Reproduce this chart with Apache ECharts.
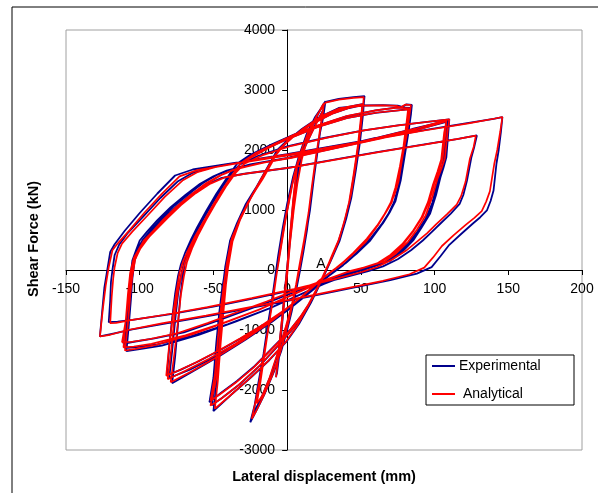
<!DOCTYPE html>
<html>
<head>
<meta charset="utf-8">
<script src="https://cdn.jsdelivr.net/npm/echarts@6/dist/echarts.min.js"></script>
<style>html,body{margin:0;padding:0;background:#fff;}#c{width:598px;height:493px;}</style>
</head>
<body>
<div id="c"></div>
<script>
// ---- Axis settings ----
const xMin = -150, xMax = 200, xStep = 50;
const yMin = -3000, yMax = 4000, yStep = 1000;
const xTitle = 'Lateral displacement (mm)';
const yTitle = 'Shear Force (kN)';
const seriesNames = ['Experimental', 'Analytical'];

// ---- Experimental (blue) hysteresis, cycle by cycle [disp mm, force kN] ----
const expC1 = [[0,0],[2,550],[4,1100],[6,1550],[7.3,1825],[6.5,1600],[4.5,1100],[2,500],[0,0],[-2,-500],[-4,-1000],[-6,-1450],[-7.5,-1787],[-6.5,-1550],[-4,-950],[-2,-450],[0,50],[2,550],[4,1050],[6,1500],[7,1780],[6,1500],[3.5,900],[1,250],[-1.5,-350],[-4,-950],[-6,-1400],[-7,-1740]];
const expC2 = [[-5,-1350],[-3,-800],[-1,-250],[1,300],[3,800],[5.5,1300],[8,1700],[11,2050],[15,2300],[20,2550],[24,2740],[26,2813],[24.5,2550],[22.4,2300],[20,1900],[17.8,1492],[15.5,1050],[13.4,658],[11,300],[8.8,0],[6,-350],[3,-700],[0,-1000],[-4,-1350],[-9,-1700],[-15,-2050],[-20,-2300],[-25,-2537],[-22,-2250],[-18,-1700],[-15,-1250],[-12,-800],[-10,-450],[-8,-100],[-6,150],[-4,450],[-2,750],[0,1000],[3,1400],[6.6,1713],[10,1950],[14,2150],[19,2420],[25,2690],[23,2420],[20.5,1950],[18,1500],[15.5,1000],[12.5,550],[9.5,150],[7,-200],[4,-550],[0,-900],[-5,-1300],[-11,-1750],[-17,-2100],[-23,-2400]];
const expC3 = [[-20,-1950],[-16,-1400],[-13,-900],[-10,-450],[-8,-100],[-6,250],[-3,700],[0,1100],[4,1550],[8,1900],[13,2250],[19,2550],[26,2800],[35,2850],[45,2880],[52.5,2897],[52,2770],[50,2300],[47,1770],[44,1300],[40.5,937],[36,550],[31.4,270],[24.6,-120],[18,-450],[10,-750],[2,-1000],[-10,-1300],[-22,-1600],[-34,-1850],[-45,-2050],[-52.7,-2203],[-50,-1800],[-48,-1200],[-46,-700],[-44,-300],[-42,0],[-38.7,492],[-34,780],[-28,1100],[-23,1300],[-18,1492],[-12,1750],[-7,1992],[0,2158],[10,2330],[20,2500],[30,2620],[40,2710],[50,2760],[52,2770],[51.5,2600],[49.5,2150],[46.5,1650],[43.5,1200],[40,850],[35.5,480],[30.5,200],[24,-150],[16,-550],[8,-900],[0,-1180],[-12,-1500],[-25,-1800],[-38,-2080],[-50,-2353],[-48,-1900],[-46,-1250],[-44,-700],[-42.5,-300],[-41,0],[-38,450],[-33,800],[-26,1150],[-18,1500],[-10,1850],[-4,2050],[5,2250],[18,2450],[30,2600],[42,2700],[51,2750],[50.5,2550],[48.5,2100],[45.5,1600],[42.5,1150],[39,800],[34.5,450],[29.5,150],[23,-200],[14,-620],[5,-950],[-5,-1230],[-18,-1580],[-32,-1900],[-44,-2130],[-51,-2250]];
const expC4 = [[-49,-1850],[-47,-1300],[-45,-700],[-43.5,-250],[-42,50],[-39,450],[-33,820],[-25,1200],[-17,1550],[-9,1900],[0,2150],[10,2350],[22,2550],[35,2700],[52,2742],[65,2748],[75,2740],[78,2720],[81,2760],[84.6,2753],[84,2600],[82,2250],[80,1940],[77,1492],[74.5,1250],[72,1108],[68,900],[63,713],[56,480],[47,270],[36,47],[25,-150],[12,-420],[0,-650],[-15,-900],[-30,-1120],[-45,-1330],[-60,-1520],[-72,-1660],[-81.6,-1758],[-80,-1300],[-78,-800],[-76,-400],[-74,-100],[-72,100],[-69,300],[-65,520],[-61,713],[-55,980],[-48,1270],[-41,1530],[-34,1770],[-25,1920],[-10,2100],[5,2260],[20,2400],[40,2560],[60,2660],[75,2710],[84,2700],[83,2500],[81,2150],[79,1800],[76.5,1450],[73.5,1150],[70,980],[65,780],[58,560],[50,340],[40,120],[30,-60],[18,-320],[5,-580],[-10,-860],[-28,-1160],[-45,-1420],[-62,-1660],[-78,-1887],[-76,-1450],[-74,-900],[-72.5,-450],[-71,-150],[-69.5,100],[-67,330],[-63,570],[-58,800],[-51,1100],[-44,1380],[-37,1630],[-29,1840],[-15,2020],[0,2180],[20,2380],[40,2530],[60,2620],[83,2680],[82,2480],[80,2100],[78,1750],[75.5,1400],[72.5,1120],[69,950],[64,760],[57,540],[48,310],[38,80],[27,-120],[15,-380],[2,-640],[-14,-920],[-32,-1210],[-50,-1460],[-66,-1660],[-80,-1800]];
const expC5 = [[-78,-1350],[-76,-850],[-74,-400],[-72,-100],[-70,120],[-67,340],[-62,620],[-55,950],[-47,1290],[-40,1560],[-32,1760],[-20,1900],[0,2060],[25,2200],[50,2320],[75,2410],[95,2470],[110,2508],[109.5,2350],[108,1880],[106,1700],[104,1547],[101,1250],[97,942],[91,700],[85.5,492],[78,300],[70,158],[58,70],[47,0],[30,-150],[10,-320],[-10,-510],[-30,-690],[-50,-870],[-70,-1040],[-90,-1140],[-105,-1200],[-111,-1230],[-109,-900],[-107.5,-500],[-106.5,-150],[-105,158],[-102.5,330],[-100,492],[-95,640],[-88,830],[-79,1047],[-69,1250],[-59,1437],[-50,1560],[-41,1658],[-25,1760],[0,1870],[30,2030],[60,2200],[85,2350],[109,2490],[108.5,2300],[107,1850],[105,1650],[102.5,1450],[99.5,1150],[95,880],[89,650],[82.5,440],[75,260],[66,120],[55,30],[45,-40],[28,-200],[8,-420],[-12,-640],[-35,-860],[-60,-1080],[-85,-1260],[-100,-1320],[-109,-1353],[-107.5,-950],[-106,-500],[-105,-150],[-103.5,150],[-101,340],[-98,500],[-93,650],[-86,840],[-77,1060],[-67,1260],[-57,1450],[-48,1580],[-39,1670],[-20,1780],[0,1860],[30,2020],[60,2180],[85,2320],[108,2470],[107.5,2280],[106,1830],[104,1630],[101.5,1420],[98.5,1120],[94,860],[88,630],[81,420],[73,240],[64,100],[53,10],[43,-60],[25,-230],[5,-450],[-15,-670],[-40,-900],[-65,-1100],[-88,-1240],[-102,-1285],[-110,-1300]];
const expC6 = [[-108.5,-900],[-107,-450],[-106,-100],[-104.5,150],[-102,330],[-98,500],[-92,650],[-84,850],[-75,1060],[-65,1260],[-55,1420],[-45,1530],[-30,1600],[0,1700],[30,1830],[60,1960],[90,2080],[115,2180],[128.7,2242],[127,2060],[125,1880],[122,1492],[119.5,1250],[117,1103],[111,940],[104,775],[98,630],[92,492],[84,330],[75,180],[65,60],[55,-20],[35,-150],[10,-300],[-20,-460],[-50,-610],[-80,-740],[-105,-830],[-115,-860],[-121,-870]];
const expC7 = [[-120,-500],[-119.5,-200],[-118.5,0],[-117,250],[-114,420],[-108,620],[-98,880],[-86,1200],[-74,1480],[-64,1620],[-50,1720],[-25,1830],[0,1930],[30,2060],[60,2190],[90,2320],[120,2440],[140,2520],[146,2547],[145,2300],[143.5,2000],[142,1775],[141,1550],[140,1325],[138,1150],[135.5,992],[131,880],[126,775],[118,600],[110,420],[104,230],[98,47],[88,-60],[70,-170],[40,-320],[10,-470],[-20,-610],[-50,-750],[-80,-880],[-105,-990],[-118,-1060],[-127,-1108]];
const expC8 = [[-125.5,-700],[-124,-300],[-122,0],[-120,300],[-117,430],[-110,658],[-100,950],[-88,1275],[-76,1575],[-64,1675],[-40,1770],[-10,1880],[20,1990]];

// ---- Analytical (red) hysteresis ----
const anaC1 = [[0,0],[2,600],[4,1150],[6,1600],[7,1800],[6,1550],[4,1050],[1.5,450],[-0.5,-100],[-2.5,-600],[-4.5,-1100],[-6.5,-1550],[-7.5,-1787],[-6,-1450],[-3.5,-850],[-1,-250],[1,300],[3,850],[5,1300],[6.8,1750],[5.5,1400],[3,800],[0.5,150],[-2,-450],[-4.5,-1050],[-6.5,-1500],[-7.2,-1700]];
const anaC2 = [[-5,-1250],[-2.5,-650],[0,-100],[2,450],[4.5,1000],[7,1450],[10,1850],[14,2200],[19,2500],[23,2700],[25,2780],[23.5,2500],[21.5,2200],[19,1800],[16.8,1400],[14.5,950],[12.4,600],[10,250],[7.8,-50],[5,-400],[2,-750],[-1,-1050],[-5,-1400],[-10,-1750],[-16,-2100],[-21,-2350],[-24,-2480],[-21,-2150],[-17,-1600],[-14,-1150],[-11,-700],[-9,-350],[-7,-50],[-5,250],[-3,550],[-1,850],[1,1100],[4,1480],[7.5,1780],[11,2000],[15,2200],[20,2450],[24.5,2660],[22.5,2380],[19.8,1900],[17.2,1450],[14.5,950],[11.5,500],[8.5,100],[6,-250],[3,-600],[-1,-950],[-6,-1350],[-12,-1800],[-17,-2100],[-20.6,-2225]];
const anaC3 = [[-18,-1850],[-15,-1350],[-12,-850],[-9,-400],[-7,-50],[-5,300],[-2,750],[1,1150],[5,1600],[9,1950],[14,2280],[20,2570],[26,2790],[35,2840],[45,2870],[52,2880],[51.5,2750],[49.5,2280],[46.5,1750],[43.5,1280],[40,920],[35.5,530],[30.5,250],[24,-140],[17,-480],[9,-780],[1,-1030],[-11,-1330],[-23,-1630],[-35,-1880],[-46,-2080],[-52,-2180],[-49,-1750],[-47,-1150],[-45,-650],[-43,-250],[-41,50],[-37.5,530],[-32.5,820],[-26.5,1130],[-21.5,1330],[-16.5,1520],[-10.5,1780],[-5.5,2010],[1,2170],[11,2340],[21,2510],[31,2630],[41,2720],[51,2760],[50.5,2580],[48.5,2120],[45.5,1620],[42.5,1170],[39,830],[34.5,460],[29.5,180],[23,-170],[15,-570],[7,-920],[-1,-1200],[-13,-1520],[-26,-1820],[-39,-2100],[-49,-2310],[-47,-1850],[-45,-1200],[-43,-650],[-41.5,-250],[-40,50],[-37,480],[-32,830],[-25,1180],[-17,1530],[-9,1870],[-3,2060],[6,2260],[19,2460],[31,2610],[43,2710],[51,2745],[50,2530],[48,2080],[45,1580],[42,1130],[38.5,780],[34,430],[29,130],[22,-220],[13,-640],[4,-970],[-6,-1250],[-19,-1600],[-33,-1920],[-45,-2150],[-52,-2260]];
const anaC4 = [[-48,-1800],[-46,-1250],[-44,-650],[-42.5,-200],[-41,100],[-38,490],[-32,860],[-24,1240],[-16,1590],[-8,1920],[1,2160],[11,2360],[23,2560],[36,2700],[52,2740],[65,2745],[74,2735],[77,2710],[80,2755],[84,2750],[83,2580],[81,2230],[78.5,1920],[75.5,1470],[72.5,1230],[69.5,1090],[65,880],[60,690],[53,460],[44,250],[33,30],[22,-170],[10,-440],[-2,-670],[-17,-920],[-32,-1140],[-47,-1350],[-62,-1540],[-74,-1680],[-82,-1760],[-80,-1250],[-77.5,-750],[-75,-350],[-73,-50],[-70.5,150],[-67,340],[-62.5,560],[-58,750],[-52,1010],[-45,1300],[-38,1560],[-31,1790],[-22,1940],[-8,2110],[6,2270],[21,2410],[41,2570],[61,2665],[75,2705],[83,2695],[82,2480],[80,2130],[77.5,1780],[74.5,1430],[71,1130],[67,960],[62,760],[55,540],[47,320],[37,100],[27,-80],[15,-340],[2,-600],[-12,-880],[-30,-1180],[-47,-1440],[-64,-1680],[-79,-1870],[-76.5,-1400],[-74,-850],[-72,-400],[-70,-100],[-68,130],[-64.5,360],[-60,600],[-55,830],[-48,1130],[-41,1410],[-34,1650],[-26,1850],[-13,2030],[1,2190],[21,2385],[41,2535],[61,2625],[82,2675],[81,2460],[79,2080],[76.5,1730],[73.5,1380],[70,1100],[66,930],[61,740],[54,520],[45,290],[35,60],[24,-140],[12,-400],[-1,-660],[-17,-940],[-35,-1230],[-53,-1480],[-69,-1680],[-81,-1820]];
const anaC5 = [[-78.5,-1300],[-76.5,-800],[-74,-350],[-71.5,-50],[-69,150],[-65.5,360],[-60,640],[-53,960],[-45,1300],[-37,1570],[-29,1770],[-17,1910],[3,2070],[28,2210],[53,2330],[78,2420],[97,2475],[110,2510],[109,2340],[107,1860],[104.5,1680],[102,1520],[98.5,1220],[94,910],[88,670],[82,470],[74,280],[66,140],[54,55],[43,-15],[26,-165],[6,-335],[-14,-525],[-34,-705],[-54,-885],[-74,-1050],[-93,-1150],[-106,-1200],[-112,-1203],[-109.5,-850],[-107.5,-450],[-106,-100],[-104,180],[-100.5,350],[-97,500],[-91,650],[-84,840],[-75,1055],[-65,1260],[-55,1445],[-46,1570],[-37,1665],[-21,1765],[2,1875],[32,2035],[62,2205],[87,2355],[108,2500],[107.5,2310],[105.5,1860],[103,1660],[100,1460],[96.5,1160],[92,890],[86,660],[79.5,450],[72,270],[63,130],[52,40],[41,-30],[24,-190],[4,-410],[-16,-630],[-39,-850],[-64,-1070],[-89,-1250],[-103,-1315],[-110,-1342],[-108,-900],[-106.5,-450],[-105,-100],[-103,180],[-99.5,360],[-95,510],[-90,660],[-82,850],[-73,1070],[-63,1270],[-53,1460],[-44,1590],[-35,1680],[-16,1790],[3,1870],[33,2030],[63,2190],[88,2330],[108,2480],[106.5,2290],[104.5,1840],[102,1640],[99,1430],[95.5,1130],[91,870],[85,640],[78,430],[70,250],[61,110],[50,20],[39,-50],[21,-220],[1,-440],[-19,-660],[-44,-890],[-69,-1090],[-92,-1230],[-104,-1275],[-111,-1290]];
const anaC6 = [[-109.5,-850],[-108,-400],[-106.5,-50],[-104,200],[-100,370],[-95,520],[-89,670],[-81,870],[-72,1080],[-62,1280],[-52,1440],[-42,1545],[-27,1610],[3,1710],[33,1840],[63,1970],[93,2090],[117,2190],[128,2240],[126.5,2050],[124,1860],[121,1470],[118,1230],[115,1090],[108.5,930],[101,760],[95,615],[88.5,480],[80.5,320],[71,170],[61,50],[51,-30],[31,-160],[6,-310],[-24,-470],[-54,-620],[-84,-750],[-107,-840],[-116,-880],[-120,-887]];
const anaC7 = [[-119,-450],[-118,-150],[-117,50],[-115,280],[-112,440],[-105,640],[-95,900],[-83,1220],[-71,1490],[-61,1630],[-47,1725],[-22,1835],[3,1935],[33,2065],[63,2195],[93,2325],[123,2445],[141,2525],[146,2550],[144.5,2300],[142.5,2000],[140.5,1770],[139,1540],[137.5,1310],[135,1140],[132,980],[127,870],[121.5,760],[113,580],[105,400],[99,210],[93,40],[83,-70],[65,-180],[35,-330],[5,-480],[-25,-620],[-55,-760],[-85,-890],[-108,-1000],[-120,-1080],[-127,-1108]];
const anaC8 = [[-125,-650],[-123,-250],[-121,50],[-118.5,330],[-115,440],[-107,660],[-97,950],[-85,1270],[-73,1560],[-61,1665],[-37,1765],[-7,1880],[23,1990]];

const expData = [].concat(expC1, expC2, expC3, expC4, expC5, expC6, expC7, expC8);
const anaData = [].concat(anaC1, anaC2, anaC3, anaC4, anaC5, anaC6, anaC7, anaC8);

const FONT = '"Liberation Sans", Arial, Helvetica, sans-serif';
const BLUE = '#00008c';
const RED = '#ff0000';

// grid geometry and where the zero lines fall
const G = {left: 66, top: 30, width: 516, height: 420};
const xZeroOffset = -(G.height * (0 - yMin) / (yMax - yMin));        // move x-axis up to y=0
const yZeroOffset = -(G.width * (0 - xMin) / (xMax - xMin));         // move y-axis right to x=0

const chart = echarts.init(document.getElementById('c'), null, {renderer: 'canvas'});
chart.setOption({
  animation: false,
  backgroundColor: '#fff',
  grid: {left: G.left, top: G.top, width: G.width, height: G.height, show: true, borderColor: '#a0a0a0', borderWidth: 1, containLabel: false},
  xAxis: {
    type: 'value', min: xMin, max: xMax, interval: xStep, position: 'bottom', offset: xZeroOffset,
    axisLine: {show: true, onZero: false, lineStyle: {color: '#000', width: 1}},
    axisTick: {show: true, inside: false, length: 5, lineStyle: {color: '#000', width: 1}},
    axisLabel: {color: '#000', fontSize: 14, fontFamily: FONT, margin: 12, showMinLabel: true, showMaxLabel: true, formatter: v => String(v)},
    splitLine: {show: false}
  },
  yAxis: {
    type: 'value', min: yMin, max: yMax, interval: yStep, position: 'left', offset: yZeroOffset,
    axisLine: {show: true, onZero: false, lineStyle: {color: '#000', width: 1}},
    axisTick: {show: true, inside: false, length: 5, lineStyle: {color: '#000', width: 1}},
    axisLabel: {color: '#000', fontSize: 14, fontFamily: FONT, margin: 12, showMinLabel: true, showMaxLabel: true, formatter: v => String(v)},
    splitLine: {show: false}
  },
  series: [
    {name: seriesNames[0], type: 'line', data: expData, showSymbol: false, symbol: 'none', z: 2,
     lineStyle: {color: BLUE, width: 1.8}, itemStyle: {color: BLUE}},
    {name: seriesNames[1], type: 'line', data: anaData, showSymbol: false, symbol: 'none', z: 3,
     lineStyle: {color: RED, width: 1.7}, itemStyle: {color: RED}}
  ],
  graphic: [
    {type: 'rect', silent: true, z: 0, shape: {x: 12, y: 7, width: 640, height: 540}, style: {fill: 'none', stroke: '#000', lineWidth: 1}},
    {type: 'text', silent: true, x: 33.5, y: 239, rotation: Math.PI / 2,
     style: {text: yTitle, font: 'bold 14.5px ' + FONT, fill: '#000', align: 'center', verticalAlign: 'middle'}},
    {type: 'text', silent: true, x: 324, y: 477,
     style: {text: xTitle, font: 'bold 14.5px ' + FONT, fill: '#000', align: 'center', verticalAlign: 'middle'}},
    {type: 'text', silent: true, x: 321, y: 264, z: 10,
     style: {text: 'A', font: '14px ' + FONT, fill: '#000', align: 'center', verticalAlign: 'middle'}},
    {type: 'rect', silent: true, z: 100, shape: {x: 426, y: 355, width: 148, height: 50}, style: {fill: '#fff', stroke: '#000', lineWidth: 1}},
    {type: 'line', silent: true, z: 101, shape: {x1: 432, y1: 366, x2: 455, y2: 366}, style: {stroke: BLUE, lineWidth: 2}},
    {type: 'line', silent: true, z: 101, shape: {x1: 432, y1: 394, x2: 455, y2: 394}, style: {stroke: RED, lineWidth: 2}},
    {type: 'text', silent: true, z: 101, x: 459, y: 366,
     style: {text: seriesNames[0], font: '14px ' + FONT, fill: '#000', align: 'left', verticalAlign: 'middle'}},
    {type: 'text', silent: true, z: 101, x: 463, y: 394,
     style: {text: seriesNames[1], font: '14px ' + FONT, fill: '#000', align: 'left', verticalAlign: 'middle'}}
  ]
});
</script>
</body>
</html>
